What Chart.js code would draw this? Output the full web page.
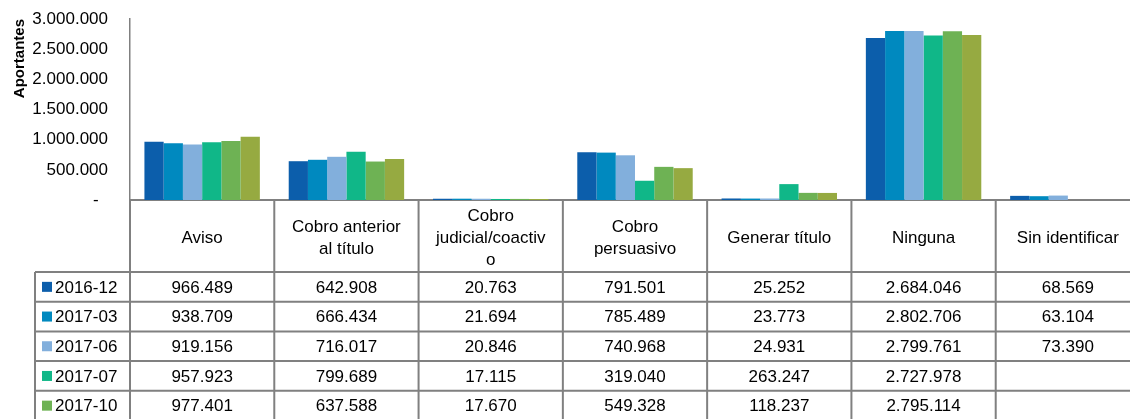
<!DOCTYPE html>
<html>
<head>
<meta charset="utf-8">
<script src="https://cdn.jsdelivr.net/npm/chart.js@4"></script>
<style>
  html, body { margin: 0; padding: 0; background: #fff; overflow: hidden; }
  #wrap { width: 1142px; height: 460px; }
</style>
</head>
<body>
<div id="wrap"><canvas id="barChartExample" width="1142" height="460"></canvas></div>
<script>
'use strict';

var categories = [
    ['Aviso'],
    ['Cobro anterior', 'al título'],
    ['Cobro', 'judicial/coactiv', 'o'],
    ['Cobro', 'persuasivo'],
    ['Generar título'],
    ['Ninguna'],
    ['Sin identificar']
];
var seriesLabels = ['2016-12', '2017-03', '2017-06', '2017-07', '2017-10', '2017-12'];
var serie201612 = [966489, 642908, 20763, 791501, 25252, 2684046, 68569];
var serie201703 = [938709, 666434, 21694, 785489, 23773, 2802706, 63104];
var serie201706 = [919156, 716017, 20846, 740968, 24931, 2799761, 73390];
var serie201707 = [957923, 799689, 17115, 319040, 263247, 2727978, null];
var serie201710 = [977401, 637588, 17670, 549328, 118237, 2795114, null];
var serie201712 = [1050000, 680000, 17000, 528000, 117000, 2735000, null];
var yTicks = [0, 500000, 1000000, 1500000, 2000000, 2500000, 3000000];

var colors = ['#0c5eab', '#0089bf', '#82afdc', '#10b788', '#6eb254', '#96aa41'];
var allSeries = [serie201612, serie201703, serie201706, serie201707, serie201710, serie201712];
var FONT = '"Liberation Sans", Arial, sans-serif';
var GRAY = '#808080';

function fmt(v) {
    return String(Math.round(v)).replace(/\B(?=(\d{3})+(?!\d))/g, '.');
}

var datasets = allSeries.map(function (s, i) {
    return {
        label: seriesLabels[i],
        data: s,
        backgroundColor: colors[i],
        borderWidth: 0,
        categoryPercentage: 0.8,
        barPercentage: 1.0
    };
});

var dataTable = {
    id: 'dataTable',
    afterDraw: function (chart) {
        var ctx = chart.ctx;
        var area = chart.chartArea;
        var n = categories.length;
        var colW = (area.right - area.left) / n;
        var top = area.bottom;
        var headBottom = top + 72;
        var rowH = 29.7;
        var bottom = headBottom + rowH * seriesLabels.length;
        var legLeft = 35;

        ctx.save();
        ctx.strokeStyle = GRAY;
        ctx.lineWidth = 2;
        ctx.beginPath();
        // vertical lines
        for (var c = 0; c <= n; c++) {
            var x = area.left + c * colW;
            ctx.moveTo(x, top);
            ctx.lineTo(x, bottom);
        }
        ctx.moveTo(legLeft, headBottom);
        ctx.lineTo(legLeft, bottom);
        // horizontal lines
        for (var r = 0; r <= seriesLabels.length; r++) {
            var y = headBottom + r * rowH;
            ctx.moveTo(legLeft, y);
            ctx.lineTo(area.right, y);
        }
        ctx.stroke();

        ctx.fillStyle = '#000';
        ctx.font = '17px ' + FONT;
        ctx.textAlign = 'center';
        ctx.textBaseline = 'middle';
        var lh = 22;
        categories.forEach(function (lines, c) {
            var cx = area.left + (c + 0.5) * colW;
            var cy = (top + headBottom) / 2 + 2;
            var y0 = cy - (lines.length - 1) * lh / 2;
            lines.forEach(function (t, k) {
                ctx.fillText(t, cx, y0 + k * lh);
            });
        });

        seriesLabels.forEach(function (lab, r) {
            var cy = headBottom + (r + 0.5) * rowH + 1;
            ctx.fillStyle = colors[r];
            ctx.fillRect(42, cy - 6, 10, 10);
            ctx.fillStyle = '#000';
            ctx.textAlign = 'left';
            ctx.fillText(lab, 55, cy);
            ctx.textAlign = 'center';
            allSeries[r].forEach(function (v, c) {
                if (v === null) return;
                ctx.fillText(fmt(v), area.left + (c + 0.5) * colW, cy);
            });
        });
        ctx.restore();
    }
};

var barChart = new Chart(document.getElementById('barChartExample'), {
    type: 'bar',
    data: {
        labels: categories,
        datasets: datasets
    },
    options: {
        responsive: false,
        animation: false,
        layout: { padding: { top: 19, right: 2, bottom: 10, left: 0 } },
        plugins: {
            legend: { display: false },
            tooltip: { enabled: false }
        },
        scales: {
            x: {
                grid: { display: false },
                ticks: { display: false },
                border: { display: true, color: GRAY, width: 2 },
                afterFit: function (s) { s.height = 250; }
            },
            y: {
                min: 0,
                max: 3000000,
                afterBuildTicks: function (s) {
                    s.ticks = yTicks.map(function (v) { return { value: v }; });
                },
                grid: { display: false, drawTicks: false },
                border: { display: true, color: GRAY, width: 1.5 },
                ticks: {
                    color: '#000',
                    padding: 22,
                    font: { family: FONT, size: 17 },
                    callback: function (v) { return v === 0 ? '-  ' : fmt(v); }
                },
                title: {
                    display: true,
                    text: 'Aportantes',
                    align: 'end',
                    color: '#000',
                    padding: { top: 11, bottom: 0 },
                    font: { family: FONT, size: 15, weight: 'bold' }
                },
                afterFit: function (s) {
                    s.width = 130;
                    s.paddingTop = 0;
                    s.paddingBottom = 0;
                }
            }
        }
    },
    plugins: [dataTable]
});
</script>
</body>
</html>
